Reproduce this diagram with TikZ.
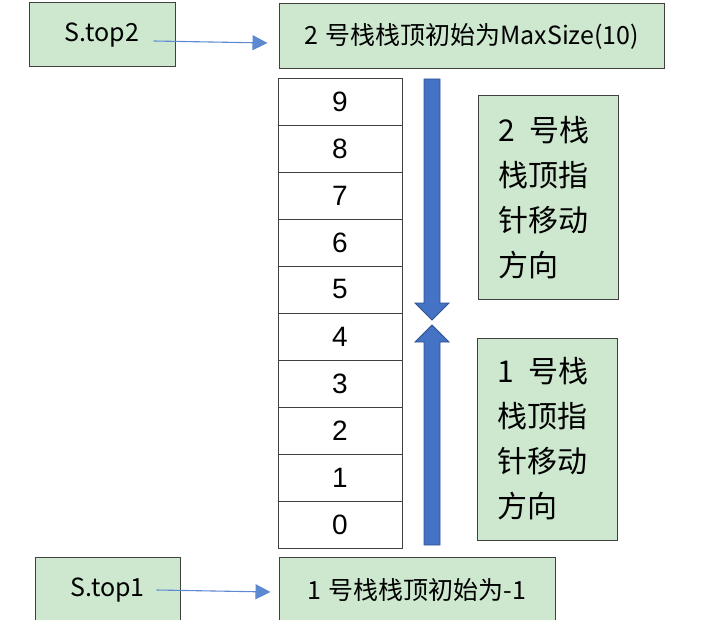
\documentclass[tikz,border=0pt]{standalone}
\usepackage{fontspec}
\setmainfont{Liberation Sans}
\newfontfamily\cjk{Noto Sans CJK SC}
\usepackage{tikz}
\usetikzlibrary{arrows.meta,positioning,calc}

\definecolor{boxgreen}{RGB}{205,232,207}
\definecolor{boxline}{RGB}{64,64,64}
\definecolor{arrowblue}{RGB}{68,114,196}
\definecolor{arrowedge}{RGB}{47,82,143}
\definecolor{ptrblue}{RGB}{92,137,210}

\begin{document}
\begin{tikzpicture}[x=1pt, y=-1pt,
    label/.style={rectangle, draw=boxline, line width=1pt, fill=boxgreen,
                  inner sep=0pt, font=\cjk\fontsize{25}{28}\selectfont},
    dirbox/.style={rectangle, draw=boxline, line width=1pt, fill=boxgreen,
                  minimum width=140pt, minimum height=203pt, inner sep=0pt,
                  text width=100pt, align=left,
                  font=\cjk\fontsize{30}{45}\selectfont},
    cell/.style={rectangle, draw=boxline, line width=0.9pt, fill=white,
                 minimum width=124pt, minimum height=47pt, inner sep=0pt,
                 font=\fontsize{28}{30}\selectfont},
    ptr/.style={-{Triangle[length=15pt, width=15pt]}, line width=1.1pt, color=ptrblue},
    bigarrow/.style={fill=arrowblue, draw=arrowedge, line width=0.8pt}
]
\useasboundingbox (0,0) rectangle (701,620);

% Stack 2 pointer
\node[label, minimum width=146pt, minimum height=64pt] (stop2) at (102,35) {S.top2};
\node[label, minimum width=385pt, minimum height=65pt] (init2) at (471.5,36) {2\hspace{0.3em}号栈栈顶初始为MaxSize(10)};

% Shared array
\foreach \i in {0,...,9}
  \node[cell] (cell\i) at (340,{548-47*(\i+0.5)}) {\i};

% Direction arrows
\filldraw[bigarrow] (424,79) -- (440,79) -- (440,303) -- (449,303) -- (432,320)
  -- (415,303) -- (424,303) -- cycle;
\filldraw[bigarrow] (424,545) -- (440,545) -- (440,342) -- (449,342) -- (432,325)
  -- (415,342) -- (424,342) -- cycle;

% Direction notes
\node[dirbox] (dir2) at (548,197.5) {2\hspace{0.5em}号栈\\栈顶指\\针移动\\方向};
\node[dirbox, minimum height=202pt] (dir1) at (547,439) {1\hspace{0.5em}号栈\\栈顶指\\针移动\\方向};

% Stack 1 pointer
\node[label, minimum width=145pt, minimum height=66pt] (stop1) at (107.5,590) {S.top1};
\node[label, minimum width=276pt, minimum height=66pt] (init1) at (417,590) {1\hspace{0.3em}号栈栈顶初始为-1};

% Connections
\draw[ptr] ([xshift=-22pt,yshift=-6pt]stop2.east) -- ([xshift=-11pt,yshift=-7pt]init2.west);
\draw[ptr] ([xshift=-24pt]stop1.east) -- ([xshift=-8pt,yshift=-2pt]init1.west);

\end{tikzpicture}
\end{document}
